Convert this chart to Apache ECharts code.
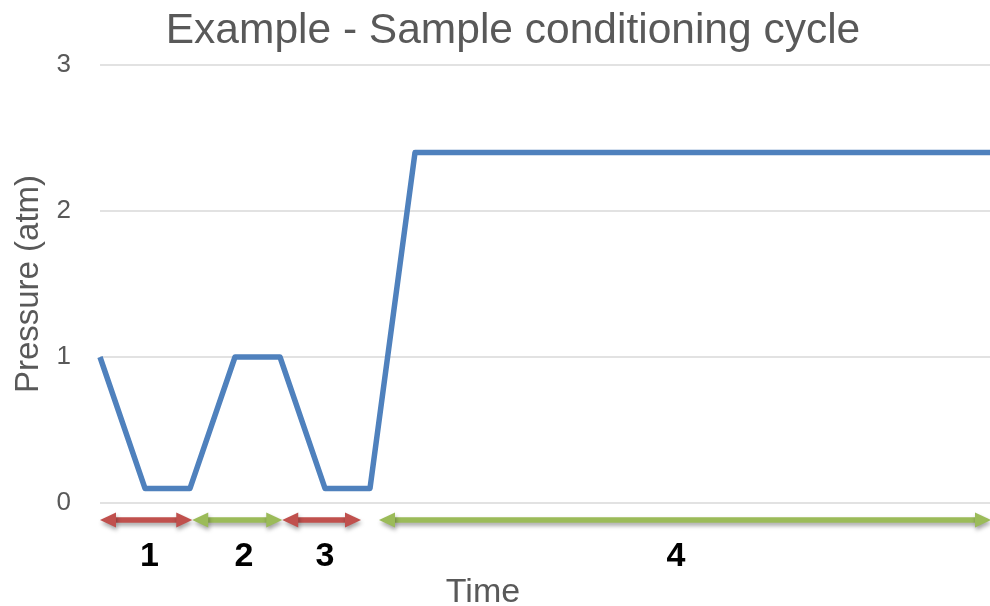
<!DOCTYPE html>
<html>
<head>
<meta charset="utf-8">
<script src="https://cdn.jsdelivr.net/npm/echarts@6/dist/echarts.min.js"></script>
<style>
  html, body { margin: 0; padding: 0; background: #fff; }
  #chart { width: 990px; height: 606px; }
</style>
</head>
<body>
<div id="chart"></div>
<script>
// Time steps of the conditioning cycle and the pressure at each step (atm)
const timeSteps = [0, 1, 2, 3, 4, 5, 6, 7, 8, 9, 10, 11, 12, 13, 14, 15, 16, 17, 18, 19, 20];
const pressure  = [1, 0.1, 0.1, 1, 1, 0.1, 0.1, 2.4, 2.4, 2.4, 2.4, 2.4, 2.4, 2.4, 2.4, 2.4, 2.4, 2.4, 2.4, 2.4, 2.4];

// Cycle phases, drawn as double-headed arrows under the time axis
const phaseNames  = ['1', '2', '3', '4'];
const phaseStart  = [0, 2.05, 4.05, 6.2];
const phaseEnd    = [2.05, 4.05, 5.8, 19.8];
const phaseLabelX = [1.1, 3.2, 5.0, 12.8];
const phaseKind   = [0, 1, 0, 1];   // 0 = red (pump down), 1 = green (fill)

const yTicks = [0, 1, 2, 3];

const ARROW_Y = -0.116;
const LABEL_Y = -0.37;
const ARROW_COLORS = ['#c0504d', '#9bbb59'];

const chart = echarts.init(document.getElementById('chart'), null, { renderer: 'canvas' });

const phaseData = phaseNames.map((n, i) => [phaseStart[i], phaseEnd[i], phaseLabelX[i], phaseKind[i], n]);

function renderPhase(params, api) {
  const x0 = api.value(0), x1 = api.value(1), lx = api.value(2);
  const kind = api.value(3);
  const name = phaseNames[params.dataIndex];
  const p0 = api.coord([x0, ARROW_Y]);
  const p1 = api.coord([x1, ARROW_Y]);
  const pl = api.coord([lx, LABEL_Y]);
  const color = ARROW_COLORS[kind];
  const head = 16, half = 7.5, y = p0[1];
  const shadow = { shadowBlur: 4, shadowOffsetX: 1, shadowOffsetY: 3, shadowColor: 'rgba(0,0,0,0.35)' };
  return {
    type: 'group',
    children: [
      {
        type: 'line',
        shape: { x1: p0[0] + head - 2, y1: y, x2: p1[0] - head + 2, y2: y },
        style: Object.assign({ stroke: color, lineWidth: 5.5 }, shadow)
      },
      {
        type: 'polygon',
        shape: { points: [[p0[0], y], [p0[0] + head, y - half], [p0[0] + head, y + half]] },
        style: Object.assign({ fill: color }, shadow)
      },
      {
        type: 'polygon',
        shape: { points: [[p1[0], y], [p1[0] - head, y - half], [p1[0] - head, y + half]] },
        style: Object.assign({ fill: color }, shadow)
      },
      {
        type: 'text',
        x: pl[0], y: pl[1],
        style: {
          text: name,
          fill: '#000',
          font: 'bold 34px "Liberation Sans", Arial, sans-serif',
          align: 'center',
          verticalAlign: 'middle'
        }
      }
    ]
  };
}

chart.setOption({
  animation: false,
  backgroundColor: '#fff',
  title: [
    {
      text: 'Example - Sample conditioning cycle',
      left: 508, top: 5,
      textAlign: 'center',
      textStyle: { fontFamily: 'Liberation Sans', fontSize: 42.5, fontWeight: 'normal', color: '#595959' }
    },
    {
      text: 'Time',
      left: 478, top: 571,
      textAlign: 'center',
      textStyle: { fontFamily: 'Liberation Sans', fontSize: 34, fontWeight: 'normal', color: '#595959' }
    }
  ],
  grid: { left: 100, right: -10, top: 65, bottom: 103, containLabel: false, outerBoundsMode: 'none' },
  xAxis: {
    type: 'value',
    min: 0, max: 20,
    axisLine: { show: false },
    axisTick: { show: false },
    axisLabel: { show: false },
    splitLine: { show: false }
  },
  yAxis: {
    type: 'value',
    min: yTicks[0], max: yTicks[yTicks.length - 1], interval: 1,
    name: 'Pressure (atm)',
    nameLocation: 'middle',
    nameGap: 55,
    nameTextStyle: { fontFamily: 'Liberation Sans', fontSize: 33, color: '#595959' },
    axisLine: { show: false },
    axisTick: { show: false },
    axisLabel: { fontFamily: 'Liberation Sans', fontSize: 26, color: '#595959', margin: 29 },
    splitLine: { lineStyle: { color: '#d9d9d9', width: 1.5 } }
  },
  series: [
    {
      type: 'line',
      data: timeSteps.map((t, i) => [t, pressure[i]]),
      showSymbol: false,
      lineStyle: { color: '#4f81bd', width: 5.5, join: 'round', cap: 'butt' },
      z: 3
    },
    {
      type: 'custom',
      clip: false,
      data: phaseData,
      encode: { x: [0, 1, 2] },
      renderItem: renderPhase,
      z: 4
    }
  ]
});
</script>
</body>
</html>
